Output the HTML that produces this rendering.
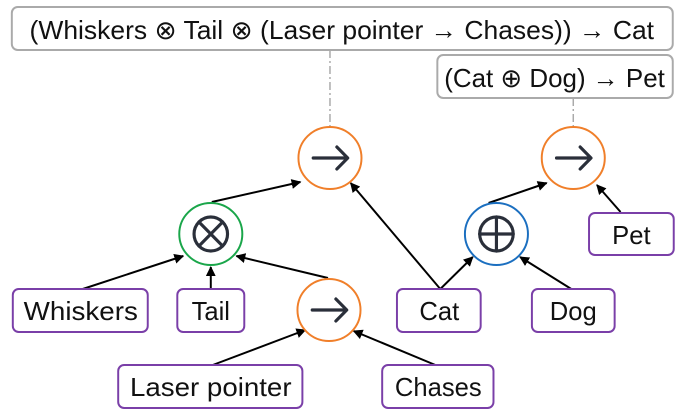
<!DOCTYPE html>
<html><head><meta charset="utf-8"><style>
html,body{margin:0;padding:0;background:#fff;width:687px;height:418px;overflow:hidden}
text{font-family:"Liberation Sans Narrow","Liberation Sans",sans-serif;fill:#111}
</style></head><body>
<svg width="687" height="418" viewBox="0 0 687 418">
<defs><marker id="ah" markerWidth="10" markerHeight="10" refX="9" refY="5" orient="auto" markerUnits="userSpaceOnUse"><path d="M0,0 L10,5 L0,10 z" fill="#000"/></marker></defs>
<g transform="scale(0.985,1)">
<g stroke="#000" stroke-width="2" fill="none" marker-end="url(#ah)">
<line x1="84" y1="289" x2="186" y2="256"/>
<line x1="214" y1="289" x2="214" y2="267"/>
<line x1="333" y1="278" x2="240" y2="256"/>
<line x1="215" y1="202" x2="305" y2="182"/>
<line x1="447" y1="289" x2="356" y2="183"/>
<line x1="447" y1="289" x2="480" y2="257"/>
<line x1="580" y1="289" x2="528" y2="257"/>
<line x1="496" y1="203" x2="555" y2="183"/>
<line x1="630" y1="212" x2="606" y2="185"/>
<line x1="216" y1="365" x2="310" y2="330"/>
<line x1="442" y1="365" x2="359" y2="331"/>
</g>
<g stroke="#aaa" stroke-width="1.5" stroke-dasharray="8,3,2,3">
<line x1="335" y1="50" x2="335" y2="127"/><line x1="582" y1="98" x2="582" y2="127"/>
</g>
<g><rect x="12" y="7" width="671" height="43" rx="6" fill="#fff" stroke="#aaa" stroke-width="2"/>
<text x="347" y="39" font-size="26" text-anchor="middle" textLength="634" lengthAdjust="spacingAndGlyphs">(Whiskers ⊗ Tail ⊗ (Laser pointer → Chases)) → Cat</text></g>
<g><rect x="444" y="55" width="239" height="43" rx="6" fill="#fff" stroke="#aaa" stroke-width="2"/>
<text x="563" y="87" font-size="26" text-anchor="middle" textLength="224" lengthAdjust="spacingAndGlyphs">(Cat ⊕ Dog) → Pet</text></g>
<g fill="#fff" stroke-width="2">
<ellipse cx="335" cy="158" rx="32" ry="31" stroke="#f07f2a"/>
<ellipse cx="582" cy="158" rx="32" ry="31" stroke="#f07f2a"/>
<ellipse cx="214" cy="234" rx="32" ry="31" stroke="#1aa64a"/>
<ellipse cx="504" cy="234" rx="32" ry="31" stroke="#1b6fc0"/>
<ellipse cx="334" cy="310" rx="32" ry="31" stroke="#f07f2a"/>
</g>
<g fill="none" stroke="#2a2f3a" stroke-width="3.2" stroke-linecap="round" stroke-linejoin="round">
<path d="M318,158 H352 M342,147 L353,158 L342,169"/>
<path d="M565,158 H599 M589,147 L600,158 L589,169"/>
<path d="M317,310 H351 M341,299 L352,310 L341,321"/>
<circle cx="214" cy="234" r="17"/><path d="M202,222 L226,246 M226,222 L202,246"/>
<circle cx="504" cy="234" r="17"/><path d="M504,217 V251 M487,234 H521"/>
</g>
<g fill="#fff" stroke="#7a3fa8" stroke-width="2">
<rect x="13" y="289" width="137" height="43" rx="6"/>
<rect x="180" y="289" width="68" height="43" rx="6"/>
<rect x="403" y="289" width="85" height="43" rx="6"/>
<rect x="540" y="289" width="84" height="43" rx="6"/>
<rect x="598" y="213" width="86" height="42" rx="6"/>
<rect x="120" y="365" width="187" height="43" rx="6"/>
<rect x="388" y="365" width="113" height="43" rx="6"/>
</g>
<g font-size="26" text-anchor="middle">
<text x="82" y="320" textLength="116" lengthAdjust="spacingAndGlyphs">Whiskers</text>
<text x="214" y="320">Tail</text>
<text x="446" y="320">Cat</text>
<text x="582" y="320">Dog</text>
<text x="641" y="244">Pet</text>
<text x="214" y="396" textLength="164" lengthAdjust="spacingAndGlyphs">Laser pointer</text>
<text x="445" y="396">Chases</text>
</g>
</g>
</svg>
</body></html>
